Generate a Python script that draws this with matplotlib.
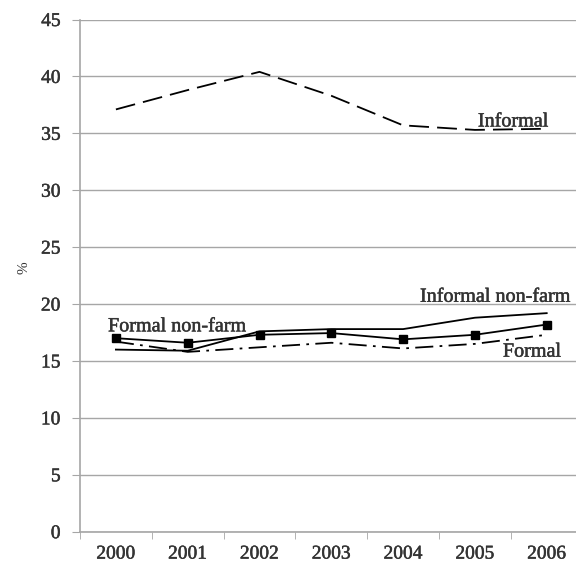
import numpy as np
import matplotlib.pyplot as plt
import matplotlib.patheffects as pe

# Datos
years = ["2000", "2001", "2002", "2003", "2004", "2005", "2006"]
informal = [37.1, 38.8, 40.4, 38.3, 35.7, 35.3, 35.4]
informal_nonfarm = [16.0, 15.9, 17.6, 17.8, 17.8, 18.8, 19.2]
formal_nonfarm = [17.0, 16.6, 17.3, 17.45, 16.9, 17.3, 18.2]
formal = [16.7, 15.8, 16.2, 16.6, 16.1, 16.5, 17.3]

plt.rcParams['font.family'] = ['Liberation Serif', 'DejaVu Serif']

fig = plt.figure(figsize=(5.76, 5.62), dpi=100)
ax = fig.add_axes([80 / 576, 1 - 531.7 / 562, 502.6 / 576, 512.2 / 562])

x = np.arange(len(years))
grid_c = "#a6a6a6"
txt_c = "#333333"
grueso = [pe.withStroke(linewidth=0.35, foreground=txt_c)]

ax.plot(x, informal, color="black", lw=1.3, dashes=(11, 4.5), zorder=3)
ax.plot(x, informal_nonfarm, color="black", lw=1.3, zorder=3)
ax.plot(x, formal_nonfarm, color="black", lw=1.3, marker="s", ms=6, zorder=3)
ax.plot(x, formal, color="black", lw=1.3, dashes=(10, 3.5, 1.5, 3.5), zorder=3)

ax.set_ylim(0, 45)
ax.set_yticks(range(0, 46, 5))
ax.set_xlim(-0.5, 6.5)
ax.set_xticks(x)
ax.set_xticklabels(years)
ax.set_xticks(np.arange(-0.5, 6.6, 1), minor=True)
ax.tick_params(axis="x", which="major", length=0, pad=10, labelsize=14,
               labelcolor=txt_c)
ax.tick_params(axis="x", which="minor", length=5, color=grid_c, direction="out")
ax.tick_params(axis="y", length=6, color=grid_c, labelsize=14, pad=8,
               labelcolor=txt_c)
for lab in ax.get_xticklabels() + ax.get_yticklabels():
    lab.set_path_effects(grueso)

ax.grid(axis="y", color=grid_c, lw=1)
ax.set_axisbelow(True)
for s in ["top", "right"]:
    ax.spines[s].set_visible(False)
for s in ["left", "bottom"]:
    ax.spines[s].set_color(grid_c)
    ax.spines[s].set_linewidth(1.2)

ax.set_ylabel("%", fontsize=11, color=txt_c)
ax.yaxis.set_label_coords(-0.098, 0.515)

# Etiquetas de series
kw = dict(fontsize=14.5, color=txt_c, va="baseline", path_effects=grueso)
ax.text(6.02, 35.6, "Informal", ha="right", **kw)
ax.text(4.235, 20.2, "Informal non-farm", ha="left", **kw)
ax.text(-0.11, 17.6, "Formal non-farm", ha="left", **kw)
ax.text(5.39, 15.38, "Formal", ha="left", **kw)

fig.savefig("out.png", dpi=100)
